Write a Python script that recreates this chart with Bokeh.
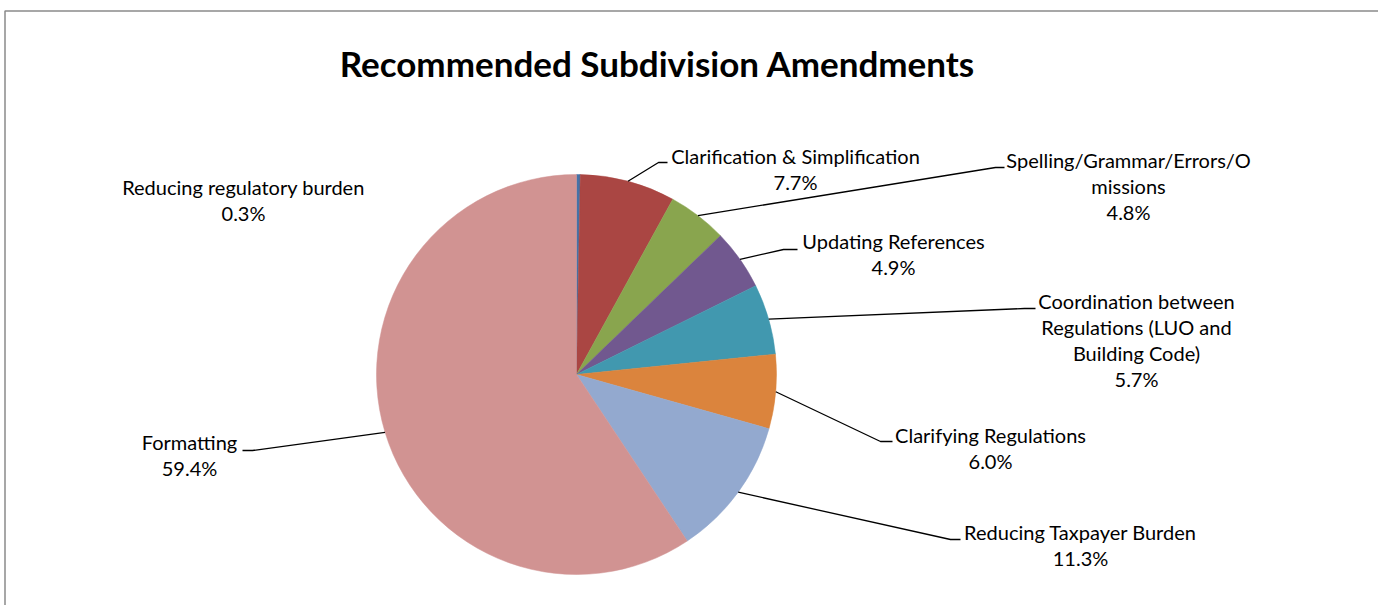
import math
from bokeh.plotting import figure
from bokeh.models import Range1d, ColumnDataSource
from bokeh.core.properties import value
from bokeh.embed import file_html
from bokeh.resources import INLINE

# ---- data ----
categories = [
    "Reducing regulatory burden",
    "Clarification & Simplification",
    "Spelling/Grammar/Errors/O\nmissions",
    "Updating References",
    "Coordination between\nRegulations (LUO and\nBuilding Code)",
    "Clarifying Regulations",
    "Reducing Taxpayer Burden",
    "Formatting",
]
percents = [0.3, 7.7, 4.8, 4.9, 5.7, 6.0, 11.3, 59.4]
colors = ["#4572A7", "#AA4643", "#89A54E", "#71588F", "#4198AF",
          "#DB843D", "#93A9CF", "#D19392"]
title = "Recommended Subdivision Amendments"

# ---- layout (screen pixels, y measured from top) ----
W, H = 1378, 605
CX, CY, R = 576, 374, 200
# label centre x, first line y
label_pos = [(243, 186), (795, 155), (1128, 159), (893, 240),
             (1136, 300), (990, 434), (1080, 531), (189, 441)]
# leader elbow and end (None = no leader)
leaders = [None, ((658, 162), (667, 162)), ((995, 167), (1004, 167)),
           ((783, 249), (797, 249)), ((1024, 308), (1035, 308)),
           ((880, 441), (892, 441)), ((950, 539), (960, 539)),
           ((252, 450), (242, 450))]
LINE_H = 26
FONT = "Lato"

def sy(y):
    return H - y

p = figure(width=W, height=H, output_backend="svg", toolbar_location=None,
           x_range=Range1d(0, W), y_range=Range1d(0, H), min_border=0)
p.axis.visible = False
p.grid.visible = False
p.outline_line_color = None
p.background_fill_color = "white"
p.border_fill_color = "white"

# chart border
p.quad(left=[4.5], right=[W + 10], bottom=[-10], top=[sy(10.5)],
       fill_color=None, line_color="#8a8a8a", line_width=1.5)

total = sum(percents)
starts, ends, mids = [], [], []
cum = 0.0
for v in percents:
    a0 = math.pi / 2 - 2 * math.pi * cum / total
    cum += v
    a1 = math.pi / 2 - 2 * math.pi * cum / total
    starts.append(a0)
    ends.append(a1)
    mids.append((a0 + a1) / 2)

src = ColumnDataSource(dict(start=starts, end=ends, color=colors))
p.wedge(x=CX, y=sy(CY), radius=R, start_angle="start", end_angle="end",
        direction="clock", fill_color="color", line_color="color",
        line_width=0.5, source=src)

# leaders
for i, ld in enumerate(leaders):
    if ld is None:
        continue
    px = CX + R * math.cos(mids[i])
    py = sy(CY) + R * math.sin(mids[i])
    (ex, ey), (tx, ty) = ld
    p.line([px, ex, tx], [py, sy(ey), sy(ty)], line_color="black",
           line_width=1.3)

# labels
for i, cat in enumerate(categories):
    lines = cat.split("\n") + [f"{percents[i]:.1f}%"]
    cx, y0 = label_pos[i]
    p.text(x=[cx] * len(lines), y=[sy(y0 + k * LINE_H) for k in range(len(lines))],
           text=lines, text_align="center", text_baseline="middle",
           text_font=value(FONT), text_font_size="20px", text_color="black")

p.text(x=[657], y=[sy(62)], text=[title], text_align="center",
       text_baseline="middle", text_font=value(FONT), text_font_style="bold",
       text_font_size="35px", text_color="black")

open("out.html", "w").write(file_html(p, INLINE))
